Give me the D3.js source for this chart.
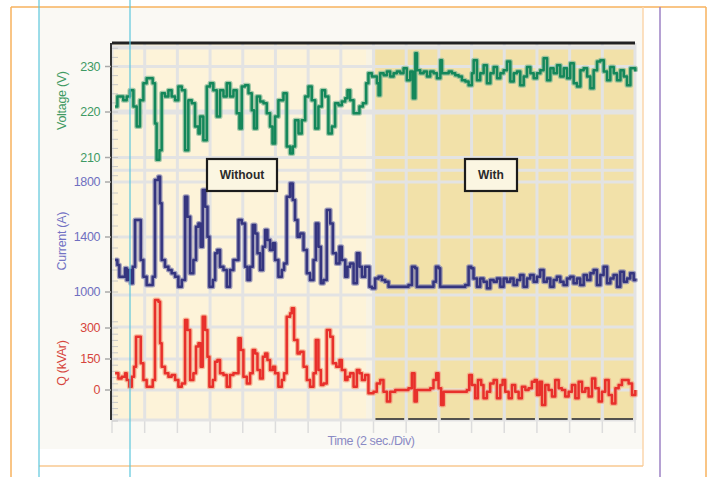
<!DOCTYPE html>
<html><head><meta charset="utf-8">
<script src="https://cdn.jsdelivr.net/npm/d3@7/dist/d3.min.js"></script>
<style>body{margin:0;background:#fff}svg{display:block}</style>
</head><body>
<svg id="c" width="710" height="477"></svg>
<script>
// ---------- data (time in s, value) ----------
const voltageSeries = [
[0.19,221.2],[0.33,223.4],[0.49,223.4],[0.69,222.6],[0.90,223.4],[1.10,224.8],[1.31,221.2],[1.51,216.8],[1.71,222.6],[1.92,226.3],
[2.12,227.4],[2.33,227.4],[2.49,226.3],[2.63,217.5],[2.73,209.5],[2.90,211.6],[3.04,224.1],[3.24,223.4],[3.45,224.8],[3.65,223.4],
[3.86,222.6],[4.06,225.6],[4.27,224.8],[4.47,211.6],[4.67,222.6],[4.88,221.9],[5.08,216.8],[5.29,215.3],[5.39,219.0],[5.59,213.8],
[5.80,225.6],[6.00,226.3],[6.20,224.8],[6.41,219.0],[6.61,224.8],[6.82,223.4],[7.02,226.3],[7.22,223.4],[7.43,224.8],[7.63,219.7],
[7.80,216.4],[7.94,225.6],[8.14,225.9],[8.35,224.1],[8.55,220.4],[8.69,216.4],[8.86,223.4],[9.06,222.3],[9.27,221.9],[9.47,219.7],
[9.67,216.8],[9.82,213.1],[9.98,219.0],[10.18,222.6],[10.39,222.6],[10.49,224.1],[10.69,212.4],[10.90,210.9],[11.06,212.4],[11.20,218.2],
[11.41,215.3],[11.61,218.2],[11.82,223.4],[12.02,225.6],[12.22,222.6],[12.43,216.4],[12.63,221.2],[12.84,224.8],[13.04,223.4],[13.24,215.3],
[13.45,216.8],[13.65,221.9],[13.86,221.5],[14.06,222.3],[14.27,223.0],[14.41,224.8],[14.57,222.6],[14.78,219.7],[14.98,219.7],[15.14,221.2],
[15.35,221.9],[15.55,226.3],[15.69,228.5],[15.90,227.8],[16.00,227.8],[16.21,226.3],[16.31,223.7],[16.41,228.5],[16.62,228.1],[16.82,228.9],
[17.02,227.8],[17.23,228.5],[17.43,228.9],[17.64,228.5],[17.84,229.6],[18.04,227.0],[18.25,228.9],[18.41,223.0],[18.56,232.9],[18.66,229.2],
[18.86,228.5],[19.07,228.9],[19.27,227.8],[19.47,228.9],[19.68,228.5],[19.88,227.4],[20.09,231.4],[20.19,228.5],[20.39,228.5],[20.60,228.9],
[20.80,228.5],[21.00,228.1],[21.21,227.8],[21.41,227.0],[21.62,226.7],[21.82,225.9],[22.02,228.5],[22.13,231.4],[22.33,227.0],[22.53,228.5],
[22.74,230.3],[22.94,226.3],[23.15,228.5],[23.35,229.9],[23.56,227.4],[23.76,228.5],[23.96,229.2],[24.17,231.1],[24.37,226.7],[24.58,228.5],
[24.78,228.9],[24.98,225.9],[25.19,227.8],[25.39,229.9],[25.60,228.5],[25.80,227.4],[26.00,228.5],[26.21,229.2],[26.41,231.8],[26.62,227.0],
[26.82,229.6],[27.02,228.5],[27.23,230.3],[27.43,227.8],[27.64,229.6],[27.84,227.4],[28.04,230.7],[28.25,226.3],[28.45,225.6],[28.66,229.2],
[28.86,229.6],[29.07,227.8],[29.27,225.2],[29.47,229.2],[29.68,231.1],[29.88,231.4],[30.09,228.9],[30.29,227.0],[30.49,229.9],[30.70,228.5],
[30.90,227.0],[31.11,229.2],[31.31,227.8],[31.51,225.9],[31.72,229.6],[32.02,228.9]
];
const currentSeries = [
[0.19,1233],[0.33,1196],[0.45,1111],[0.59,1111],[0.80,1172],[0.90,1087],[1.00,1160],[1.15,1063],[1.27,1184],[1.41,1523],
[1.61,1523],[1.76,1233],[1.92,1111],[2.12,1051],[2.33,1051],[2.49,1111],[2.63,1814],[2.84,1839],[2.94,1645],[3.04,1233],
[3.24,1184],[3.45,1160],[3.65,1136],[3.86,1111],[4.06,1039],[4.27,1087],[4.47,1693],[4.61,1548],[4.78,1136],[4.98,1233],
[5.14,1475],[5.29,1499],[5.43,1329],[5.55,1742],[5.70,1620],[5.84,1402],[5.96,1039],[6.17,1087],[6.31,1281],[6.45,1305],
[6.61,1184],[6.82,1160],[7.02,1039],[7.22,1160],[7.43,1233],[7.74,1523],[7.94,1499],[8.14,1184],[8.29,1087],[8.45,1184],
[8.61,1487],[8.76,1426],[8.90,1281],[9.06,1160],[9.23,1329],[9.37,1451],[9.51,1378],[9.67,1305],[9.84,1354],[9.98,1233],
[10.18,1111],[10.39,1160],[10.53,1208],[10.69,1693],[10.90,1790],[11.06,1669],[11.20,1523],[11.35,1402],[11.51,1426],[11.72,1305],
[11.92,1136],[12.12,1087],[12.33,1233],[12.47,1499],[12.63,1329],[12.78,1063],[12.94,1087],[13.14,1596],[13.35,1499],[13.51,1281],
[13.72,1208],[13.92,1329],[14.06,1233],[14.27,1111],[14.41,1184],[14.57,1208],[14.78,1063],[14.98,1281],[15.14,1184],[15.29,1111],
[15.49,1184],[15.65,1184],[15.75,1039],[15.90,1027],[16.10,1099],[16.31,1111],[16.51,1087],[16.71,1075],[16.92,1039],[17.33,1039],
[17.73,1039],[18.14,1051],[18.35,1184],[18.55,1172],[18.65,1039],[18.96,1039],[19.37,1039],[19.67,1075],[19.82,1184],[19.98,1172],
[20.08,1039],[20.59,1039],[21.20,1039],[21.61,1051],[21.82,1184],[21.98,1172],[22.12,1099],[22.33,1039],[22.53,1099],[22.73,1075],
[22.94,1027],[23.14,1087],[23.35,1075],[23.55,1099],[23.76,1039],[23.96,1099],[24.16,1075],[24.37,1099],[24.57,1051],[24.78,1087],
[24.98,1124],[25.18,1039],[25.39,1099],[25.59,1124],[25.80,1075],[26.00,1111],[26.20,1160],[26.41,1075],[26.61,1099],[26.82,1039],
[27.02,1087],[27.22,1111],[27.43,1075],[27.63,1051],[27.84,1099],[28.04,1111],[28.24,1063],[28.45,1099],[28.65,1051],[28.86,1124],
[29.06,1087],[29.27,1136],[29.47,1160],[29.67,1051],[29.88,1124],[30.08,1184],[30.29,1063],[30.49,1099],[30.69,1124],[30.90,1039],
[31.10,1148],[31.31,1075],[31.51,1099],[31.71,1136],[31.92,1087],[32.02,1099]
];
const qSeries = [
[0.19,81],[0.39,56],[0.59,64],[0.80,81],[0.90,48],[1.06,16],[1.21,64],[1.35,113],[1.47,258],[1.61,258],
[1.76,129],[1.92,48],[2.12,16],[2.33,16],[2.49,48],[2.63,435],[2.84,427],[2.94,226],[3.04,113],[3.24,81],
[3.45,64],[3.65,72],[3.86,48],[4.06,16],[4.27,32],[4.47,339],[4.61,290],[4.78,48],[4.98,81],[5.14,210],
[5.29,226],[5.43,113],[5.55,355],[5.70,290],[5.84,161],[5.96,16],[6.17,48],[6.31,137],[6.45,145],[6.61,81],
[6.82,72],[7.02,16],[7.22,72],[7.43,81],[7.74,250],[7.88,193],[8.04,64],[8.25,32],[8.45,81],[8.61,193],
[8.76,177],[8.90,97],[9.06,56],[9.23,161],[9.37,177],[9.51,145],[9.67,97],[9.84,113],[9.98,81],[10.18,16],
[10.39,48],[10.53,81],[10.69,355],[10.90,371],[11.00,395],[11.14,242],[11.35,177],[11.51,185],[11.72,113],[11.92,48],
[12.12,16],[12.33,81],[12.47,242],[12.63,97],[12.78,24],[12.94,32],[13.14,290],[13.35,258],[13.51,129],[13.72,113],
[13.92,145],[14.06,97],[14.27,48],[14.41,64],[14.57,81],[14.78,16],[14.98,97],[15.14,81],[15.29,48],[15.49,72],
[15.69,-16],[15.90,-16],[16.00,-8],[16.20,32],[16.41,48],[16.61,-8],[16.82,-56],[17.02,-8],[17.33,0],[17.73,0],
[18.14,8],[18.35,81],[18.51,-56],[18.65,0],[19.06,0],[19.47,8],[19.67,48],[19.84,81],[19.98,8],[20.14,-73],
[20.29,-8],[20.80,-8],[21.41,-8],[21.71,0],[21.86,73],[22.02,24],[22.22,-40],[22.39,48],[22.59,24],[22.73,-40],
[22.94,-8],[23.14,32],[23.35,48],[23.55,-40],[23.76,24],[23.90,48],[24.06,-8],[24.27,-40],[24.47,24],[24.67,-8],
[24.88,-40],[25.08,16],[25.29,0],[25.49,8],[25.69,40],[25.86,48],[26.00,-24],[26.16,40],[26.31,-73],[26.51,24],
[26.71,0],[26.92,-32],[27.12,48],[27.33,8],[27.53,0],[27.73,-32],[27.94,-8],[28.14,24],[28.35,-40],[28.55,40],
[28.76,-8],[28.96,8],[29.16,-32],[29.37,56],[29.57,8],[29.78,-56],[29.98,-8],[30.18,48],[30.39,-24],[30.59,-65],
[30.80,8],[31.00,24],[31.20,48],[31.41,48],[31.61,32],[31.82,-24],[32.02,0]
];
const voltageTicks = [210, 220, 230];
const currentTicks = [1000, 1400, 1800];
const qTicks = [0, 150, 300];
const timeDivisions = d3.range(0, 34, 2);   // 2 s per division
const regionLabels = ["Without", "With"];
const regionSpans = [[0, 15.55], [16.1, 32]];
const axisTitles = ["Voltage (V)", "Current (A)", "Q (kVAr)"];
const xTitle = "Time (2 sec./Div)";

// ---------- scales ----------
const x = d3.scaleLinear().domain([0, 32]).range([112, 635]);
const yV = d3.scaleLinear().domain([210, 230]).range([157.5, 66.5]);
const yC = d3.scaleLinear().domain([1000, 1800]).range([292, 182]);
const yQ = d3.scaleLinear().domain([0, 300]).range([390, 328]);
const plotTop = 43, plotBottom = 420;

const svg = d3.select("#c");
const FONT = "Liberation Sans, Arial, sans-serif";

// page decorations
svg.append("rect").attr("x",39).attr("y",7).attr("width",604).attr("height",442).attr("fill","#faf9f4");
svg.append("line").attr("x1",11).attr("x2",706).attr("y1",7).attr("y2",7).attr("stroke","#f7b25e").attr("stroke-width",1.5);
svg.append("line").attr("x1",11).attr("x2",11).attr("y1",7).attr("y2",477).attr("stroke","#f7b25e").attr("stroke-width",1.5);
svg.append("line").attr("x1",706).attr("x2",706).attr("y1",7).attr("y2",477).attr("stroke","#f7b25e").attr("stroke-width",1.5);
svg.append("line").attr("x1",643).attr("x2",643).attr("y1",7).attr("y2",466).attr("stroke","#fbd6ad").attr("stroke-width",1.5);
svg.append("line").attr("x1",39).attr("x2",643).attr("y1",466).attr("y2",466).attr("stroke","#f9c890").attr("stroke-width",1.5);

// region backgrounds
const bgColors = ["#fdf3d9", "#f2e1a9"];
svg.append("rect").attr("x",x(0)).attr("y",plotTop).attr("width",x(32)-x(0)).attr("height",plotBottom-plotTop).attr("fill","#f8f3e4");
regionSpans.forEach((s,i)=>{
  svg.append("rect").attr("x",x(s[0])).attr("y",i===0?plotTop:49).attr("width",x(s[1])-x(s[0]))
    .attr("height",plotBottom-(i===0?plotTop:49)).attr("fill",bgColors[i]);
});

// grid
const grid = svg.append("g").attr("stroke","#e3e3e3");
timeDivisions.forEach(t=>{
  grid.append("line").attr("x1",x(t)).attr("x2",x(t)).attr("y1",plotTop).attr("y2",plotBottom).attr("stroke-width",3);
  grid.append("line").attr("x1",x(t)).attr("x2",x(t)).attr("y1",plotBottom).attr("y2",433).attr("stroke-width",1.5).attr("stroke","#dcdcdc");
});
const hLines = [
  [yV(234.2),4],[yV(230),3],[yV(220),5],[yV(210),3],[yV(207.2),3],
  [yC(1800),3],[yC(1400),3],[yC(1000)+3,3],
  [yQ(300)-1,3],[yQ(150),3],[yQ(0),3],[plotBottom,3]
];
hLines.forEach(h=>{
  grid.append("line").attr("x1",x(0)).attr("x2",x(32)).attr("y1",h[0]).attr("y2",h[0]).attr("stroke-width",h[1]);
});

// frame
svg.append("line").attr("x1",x(0)).attr("x2",x(32)).attr("y1",plotTop).attr("y2",plotTop).attr("stroke","#222").attr("stroke-width",3);
svg.append("line").attr("x1",111).attr("x2",111).attr("y1",plotTop).attr("y2",plotBottom).attr("stroke","#333").attr("stroke-width",2);
timeDivisions.slice(8,16).forEach(t=>{
  svg.append("line").attr("x1",x(t)+2).attr("x2",x(t+2)-2).attr("y1",419).attr("y2",419).attr("stroke","#222").attr("stroke-width",1.5);
});

// minor ticks inside left axis
const minor = svg.append("g").attr("stroke","#c8c8c8").attr("stroke-width",1);
d3.range(206,235,2).forEach(v=>minor.append("line").attr("x1",112).attr("x2",118).attr("y1",yV(v)).attr("y2",yV(v)));
d3.range(1000,1800,80).forEach(v=>minor.append("line").attr("x1",112).attr("x2",118).attr("y1",yC(v)).attr("y2",yC(v)));
d3.range(-150,331,30).forEach(v=>minor.append("line").attr("x1",112).attr("x2",118).attr("y1",yQ(v)).attr("y2",yQ(v)));

// tick labels
function ticks(vals, scale, color){
  const g = svg.append("g");
  vals.forEach(v=>{
    g.append("line").attr("x1",105).attr("x2",111).attr("y1",scale(v)).attr("y2",scale(v)).attr("stroke","#aaa").attr("stroke-width",1.5);
    g.append("text").attr("x",100).attr("y",scale(v)).attr("dy","0.35em").attr("text-anchor","end")
      .attr("font-family",FONT).attr("font-size",12.5).attr("letter-spacing","-0.4").attr("fill",color).text(v);
  });
}
ticks(voltageTicks, yV, "#3f9a63");
ticks(currentTicks, yC, "#6f6fc0");
ticks(qTicks, yQ, "#d6453c");

// axis titles
const titleColors = ["#3f9a63", "#7373c4", "#d6453c"];
const titleCenters = [yV(222.5), yC(1370), yQ(130)];
axisTitles.forEach((t,i)=>{
  svg.append("text").attr("transform",`translate(66,${titleCenters[i]}) rotate(-90)`).attr("text-anchor","middle")
    .attr("font-family",FONT).attr("font-size",12.5).attr("letter-spacing","-0.3").attr("fill",titleColors[i]).text(t);
});
svg.append("text").attr("x",371).attr("y",445).attr("text-anchor","middle").attr("font-family",FONT)
  .attr("font-size",12.5).attr("letter-spacing","-0.4").attr("fill","#8a8ac4").text(xTitle);

// series
function series(data, yScale, core, halo){
  const line = d3.line().x(d=>x(d[0])).y(d=>yScale(d[1])).curve(d3.curveStepAfter);
  svg.append("path").datum(data).attr("d",line).attr("fill","none").attr("stroke",halo).attr("stroke-width",5).attr("stroke-linejoin","round").attr("opacity",0.7);
  svg.append("path").datum(data).attr("d",line).attr("fill","none").attr("stroke",core).attr("stroke-width",2.5).attr("stroke-linejoin","round");
}
series(voltageSeries, yV, "#14875a", "#7fb794");
series(currentSeries, yC, "#35357f", "#7c7cae");
series(qSeries, yQ, "#e8302b", "#f3a382");

// region label boxes
const boxes = [{cx:242, w:70}, {cx:491, w:52}];
regionLabels.forEach((t,i)=>{
  const b = boxes[i];
  svg.append("rect").attr("x",b.cx-b.w/2).attr("y",159).attr("width",b.w).attr("height",32)
    .attr("fill","#fbf6e2").attr("stroke","#1c1c1c").attr("stroke-width",2.2);
  svg.append("text").attr("x",b.cx).attr("y",175).attr("dy","0.35em").attr("text-anchor","middle")
    .attr("font-family",FONT).attr("font-weight","bold").attr("font-size",12).attr("fill","#2a2a2a").text(t);
});

// guide lines
svg.append("line").attr("x1",39).attr("x2",39).attr("y1",0).attr("y2",477).attr("stroke","#5cc6dc").attr("stroke-width",1.2);
svg.append("line").attr("x1",130).attr("x2",130).attr("y1",0).attr("y2",477).attr("stroke","#5cc6dc").attr("stroke-width",1.2);
svg.append("line").attr("x1",660).attr("x2",660).attr("y1",7).attr("y2",477).attr("stroke","#9c82c4").attr("stroke-width",1.5);
</script>
</body></html>
